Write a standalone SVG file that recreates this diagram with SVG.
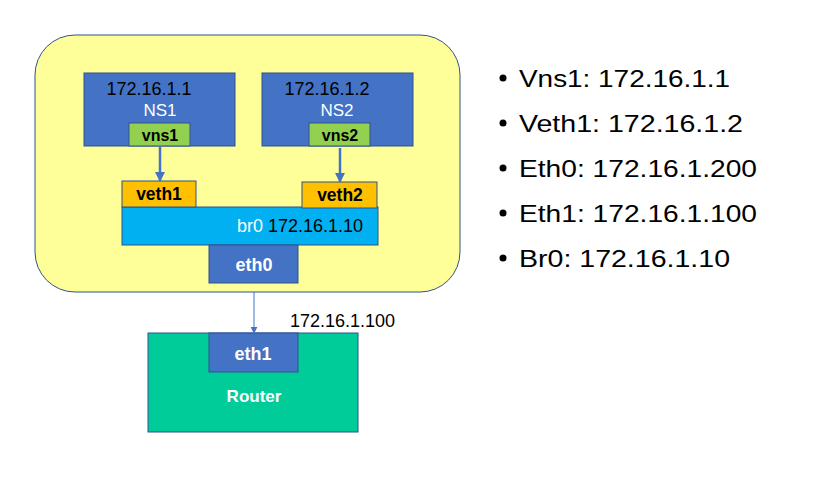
<svg xmlns="http://www.w3.org/2000/svg" width="830" height="493" viewBox="0 0 830 493">
<style>
.f{font-family:"Liberation Sans",Arial,sans-serif}
.bx{stroke:#2F528F;stroke-width:1}
.blue{fill:#4472C4}
.wt{fill:#FFFFFF}
.bk{fill:#000000}
.b{font-weight:bold}
.lst{font-family:"Liberation Sans",Arial,sans-serif;font-size:24px;fill:#000}
</style>
<defs>
<marker id="ah" viewBox="0 0 10 10" refX="9" refY="5" markerWidth="4" markerHeight="4" orient="auto" markerUnits="strokeWidth">
<path d="M0,0 L10,5 L0,10 z" fill="#4472C4"/>
</marker>
<marker id="ah2" viewBox="0 0 10 10" refX="9" refY="5" markerWidth="7" markerHeight="7" orient="auto" markerUnits="strokeWidth">
<path d="M0,0 L10,5 L0,10 z" fill="#4472C4"/>
</marker>
</defs>
<rect width="830" height="493" fill="#FFFFFF"/>
<g id="host">
<rect x="35" y="35" width="425" height="257" rx="40" ry="40" fill="#FFFF99" class="bx"/>
</g>
<g id="ns1">
<rect x="84" y="73" width="151" height="73" class="blue bx"/>
<text x="149" y="95" class="f bk" font-size="18" text-anchor="middle">172.16.1.1</text>
<text x="160" y="116" class="f wt" font-size="17" text-anchor="middle">NS1</text>
</g>
<g id="ns2">
<rect x="262" y="73" width="151" height="73" class="blue bx"/>
<text x="327" y="95" class="f bk" font-size="18" text-anchor="middle">172.16.1.2</text>
<text x="337" y="116" class="f wt" font-size="17" text-anchor="middle">NS2</text>
</g>
<g id="vns1">
<rect x="129" y="123" width="61" height="23" fill="#92D050" class="bx"/>
<text x="160" y="141" class="f bk b" font-size="16" text-anchor="middle">vns1</text>
</g>
<g id="vns2">
<rect x="309" y="123" width="61" height="23" fill="#92D050" class="bx"/>
<text x="340" y="141" class="f bk b" font-size="16" text-anchor="middle">vns2</text>
</g>
<g id="br0">
<rect x="122" y="207" width="256" height="38" fill="#00B0F0" class="bx"/>
<text x="237" y="232" class="f" font-size="18"><tspan class="wt">br0 </tspan><tspan class="bk">172.16.1.10</tspan></text>
</g>
<g id="veth1">
<rect x="122" y="181" width="74" height="26" fill="#FFC000" class="bx"/>
<text x="159" y="200" class="f bk b" font-size="17.5" text-anchor="middle">veth1</text>
</g>
<g id="veth2">
<rect x="302" y="182" width="75" height="26" fill="#FFC000" class="bx"/>
<text x="340" y="201" class="f bk b" font-size="17.5" text-anchor="middle">veth2</text>
</g>
<g id="eth0">
<rect x="209" y="245" width="89" height="38" class="blue bx"/>
<text x="254" y="271" class="f wt b" font-size="18" text-anchor="middle">eth0</text>
</g>
<g id="router">
<rect x="148" y="333" width="210" height="99" fill="#00CC99" class="bx"/>
<text x="254" y="402" class="f wt b" font-size="17" text-anchor="middle">Router</text>
</g>
<g id="eth1">
<rect x="209" y="333" width="89" height="39" class="blue bx"/>
<text x="253" y="360" class="f wt b" font-size="18" text-anchor="middle">eth1</text>
</g>
<g id="connectors" fill="none" stroke="#4472C4">
<line x1="160" y1="147" x2="160" y2="181" stroke-width="2.5" marker-end="url(#ah)"/>
<line x1="340" y1="148" x2="340" y2="182" stroke-width="2.5" marker-end="url(#ah)"/>
<line x1="254" y1="292" x2="254" y2="333" stroke-width="1" marker-end="url(#ah2)"/>
</g>
<text x="290" y="327" class="f bk" font-size="18">172.16.1.100</text>
<g id="list">
<circle cx="503" cy="78" r="3.5"/>
<text x="519" y="87" class="lst" textLength="211" lengthAdjust="spacingAndGlyphs">Vns1: 172.16.1.1</text>
<circle cx="503" cy="123" r="3.5"/>
<text x="519" y="132" class="lst" textLength="224" lengthAdjust="spacingAndGlyphs">Veth1: 172.16.1.2</text>
<circle cx="503" cy="168" r="3.5"/>
<text x="519" y="177" class="lst" textLength="238" lengthAdjust="spacingAndGlyphs">Eth0: 172.16.1.200</text>
<circle cx="503" cy="213" r="3.5"/>
<text x="519" y="222" class="lst" textLength="238" lengthAdjust="spacingAndGlyphs">Eth1: 172.16.1.100</text>
<circle cx="503" cy="258" r="3.5"/>
<text x="519" y="267" class="lst" textLength="211" lengthAdjust="spacingAndGlyphs">Br0: 172.16.1.10</text>
</g>
</svg>
